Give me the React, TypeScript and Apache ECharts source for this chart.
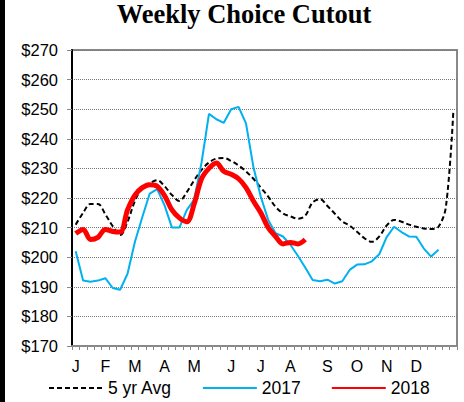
import React, { useEffect, useRef } from "react";
import * as echarts from "echarts";

const weeks = Array.from({ length: 52 }, (_, i) => `W${i + 1}`);
const monthLabels = ["J", "F", "M", "A", "M", "J", "J", "A", "S", "O", "N", "D"];
const monthStartWeek = [0, 4, 8, 12, 16, 21, 25, 29, 34, 38, 42, 46];

const avg5yr = [
  211, 215, 218, 218, 214.5, 210.5, 207.5, 212, 219, 223.5, 225, 226, 224, 221, 219, 222,
  226, 229.5, 232, 233.3, 233.5, 232.5, 231, 229, 226.5, 223.5, 220.5, 217, 214.8, 213.8,
  213, 214, 218.5, 219.6, 217.3, 214.7, 212.1, 210.7, 208.6, 206.4, 205.2, 207, 210.7,
  212.6, 212, 211, 210.3, 209.7, 209.5, 210.3, 217, 249,
];

const y2017 = [
  202, 192.1, 191.7, 192.1, 192.9, 189.6, 189, 194.4, 205.2, 213.6, 221.5, 223, 217.5,
  210, 210, 215.9, 219.5, 232, 248.4, 246.6, 245.4, 250, 250.8, 245.2, 230.5, 220.4, 212.6,
  208.1, 207, 204.2, 200.5, 196.5, 192.3, 191.9, 192.4, 191.1, 191.9, 195.7, 197.5, 197.6,
  198.6, 201, 206.8, 210.3, 208.5, 207, 206.9, 203, 200.2, 202.5,
];

const y2018 = [
  208, 209.4, 206, 206.7, 209.4, 208.7, 208.5, 216, 221, 223.5, 224.5, 224, 220.8, 216,
  213.3, 212, 218, 226.5, 230, 231.8, 229, 228, 226.5, 223.5, 219, 215, 210, 207, 204.5,
  205, 204.5, 206,
];

const FONT = "'Liberation Sans', Arial, sans-serif";

export default function App() {
  const ref = useRef<HTMLDivElement>(null);
  useEffect(() => {
    if (!ref.current) return;
    const chart = echarts.init(ref.current, null, { renderer: "svg" });
    chart.setOption({
      animation: false,
      backgroundColor: "#fff",
      graphic: [
        { type: "rect", shape: { x: 0, y: 0, width: 5, height: 402 }, style: { fill: "#000" } },
        {
          type: "text",
          x: 244,
          y: 0,
          style: {
            text: "Weekly Choice Cutout",
            font: "bold 26.5px 'Liberation Serif', 'Times New Roman', serif",
            fill: "#000",
            textAlign: "center",
            textVerticalAlign: "top",
          },
        },
      ],
      grid: {
        left: 72,
        right: 7,
        top: 50,
        bottom: 56,
        show: true,
        borderColor: "#888",
        borderWidth: 2,
        backgroundColor: "transparent",
      },
      legend: {
        left: 43,
        top: 374,
        itemWidth: 54,
        itemHeight: 14,
        itemGap: 30,
        itemStyle: { opacity: 0 },
        textStyle: { fontFamily: FONT, fontSize: 17.5, color: "#000" },
        data: ["5 yr Avg", "2017", "2018"],
      },
      xAxis: {
        type: "category",
        data: weeks,
        boundaryGap: true,
        axisLine: { lineStyle: { color: "#888", width: 2 } },
        axisTick: { show: true, interval: 0, length: 4, lineStyle: { color: "#888", width: 1 } },
        axisLabel: {
          interval: (idx: number) => monthStartWeek.includes(idx),
          formatter: (_v: string, idx: number) => {
            const k = monthStartWeek.indexOf(idx);
            return k >= 0 ? monthLabels[k] : "";
          },
          margin: 12,
          fontFamily: FONT,
          fontSize: 16,
          color: "#000",
        },
        splitLine: { show: false },
      },
      yAxis: {
        type: "value",
        min: 170,
        max: 270,
        interval: 10,
        axisLine: { show: true, lineStyle: { color: "#000", width: 2 } },
        axisTick: { show: true, length: 5, lineStyle: { color: "#888" } },
        axisLabel: {
          formatter: (v: number) => "$" + v,
          margin: 14,
          fontFamily: FONT,
          fontSize: 16.5,
          color: "#000",
        },
        splitLine: { show: true, lineStyle: { color: "#777", type: "dotted", width: 1 } },
      },
      series: [
        {
          name: "5 yr Avg",
          type: "line",
          data: avg5yr,
          symbol: "none",
          smooth: 0.35,
          lineStyle: { color: "#000", width: 2, type: [5, 3] },
          itemStyle: { color: "#000" },
        },
        {
          name: "2017",
          type: "line",
          data: y2017,
          symbol: "none",
          lineStyle: { color: "#00B0F0", width: 2 },
          itemStyle: { color: "#00B0F0" },
        },
        {
          name: "2018",
          type: "line",
          data: y2018,
          symbol: "none",
          smooth: 0.35,
          lineStyle: { color: "#FF0000", width: 5 },
          itemStyle: { color: "#FF0000" },
        },
      ],
    });
    return () => chart.dispose();
  }, []);
  return (
    <div
      ref={ref}
      style={{ position: "fixed", left: 0, top: 0, width: 464, height: 402, background: "#fff" }}
    />
  );
}
